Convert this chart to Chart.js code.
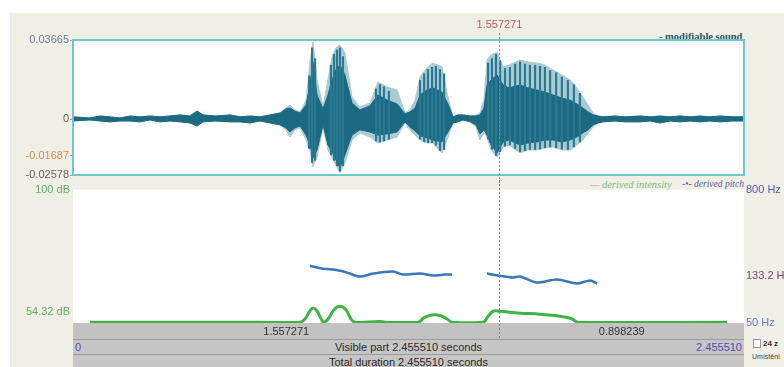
<!DOCTYPE html>
<html><head><meta charset="utf-8">
<script src="https://cdn.jsdelivr.net/npm/chart.js@4.4.1/dist/chart.umd.min.js"></script>
<style>
html,body{margin:0;padding:0;background:#fff;}
body{width:784px;height:367px;position:relative;overflow:hidden;font-family:"Liberation Sans",Arial,sans-serif;}
#bg{position:absolute;left:10px;top:13px;width:774px;height:354px;background:#f0efe6;}
canvas{position:absolute;left:0;}
.t{position:absolute;white-space:nowrap;font-size:11px;line-height:12px;}
.row{position:absolute;left:73px;width:671px;background:#c2c2c2;border-bottom:1px solid #9c9c9c;box-sizing:border-box;}
.lg{position:absolute;white-space:nowrap;font-family:"Liberation Serif",serif;font-style:italic;font-size:10px;line-height:11px;}
</style></head><body>
<div id="bg"></div>
<div class="row" style="top:323px;height:17px;"></div>
<div class="row" style="top:340px;height:15px;background:#c6c6c6;"></div>
<div class="row" style="top:355px;height:14px;background:#c6c6c6;"></div>
<div class="t" style="left:75px;top:341px;color:#5050b0;">0</div>
<div class="t" style="left:73px;width:671px;text-align:center;top:341px;color:#2a2a2a;">Visible part 2.455510 seconds</div>
<div class="t" style="left:600px;width:142px;text-align:right;top:341px;color:#5050b0;">2.455510</div>
<div class="t" style="left:73px;width:671px;text-align:center;top:356px;color:#2a2a2a;">Total duration 2.455510 seconds</div>
<div class="lg" style="left:659px;top:31px;font-style:normal;font-weight:bold;font-size:10.5px;color:#2a5566;">- modifiable sound</div>
<div class="lg" style="left:590px;top:179px;font-size:10.5px;color:#86b886;">— derived intensity</div>
<div class="lg" style="left:682px;top:179px;font-size:9.5px;color:#5a5aa8;">-•- derived pitch</div>
<div style="position:absolute;left:753px;top:339px;width:6px;height:7px;border:1px solid #999;background:#fff;"></div>
<div class="t" style="left:763px;top:338px;font-size:8px;font-weight:bold;color:#333;">24 z</div>
<div class="t" style="left:752px;top:351px;font-size:7px;color:#444;">Umístění</div>
<canvas id="wave" width="784" height="185" style="top:0"></canvas>
<canvas id="pi" width="784" height="165" style="top:180px"></canvas>
<script>
const totalDuration = 2.455510;
const cursorTime = 1.557271;

const waveTimes = [0.000,0.062,0.099,0.135,0.172,0.209,0.245,0.282,0.318,0.355,
0.392,0.428,0.454,0.476,0.520,0.575,0.611,0.648,0.684,0.721,
0.758,0.779,0.794,0.812,0.831,0.853,0.867,0.878,0.893,0.915,
0.933,0.948,0.962,0.977,0.995,1.021,1.050,1.087,1.116,1.149,
1.186,1.215,1.233,1.252,1.270,1.295,1.317,1.350,1.372,1.391,
1.409,1.427,1.453,1.475,1.489,1.504,1.515,1.530,1.552,1.574,
1.596,1.636,1.665,1.698,1.727,1.757,1.789,1.819,1.844,1.866,
1.885,1.903,1.921,1.940,1.983,2.020,2.075,2.112,2.148,2.185,
2.221,2.258,2.295,2.331,2.368,2.412,2.455];

const waveLightMax = [0.0011,0.0006,0.0015,0.0011,0.0006,0.0015,0.0011,0.0015,0.0011,0.0015,
0.0020,0.0015,0.0038,0.0020,0.0015,0.0020,0.0011,0.0015,0.0011,0.0020,
0.0029,0.0052,0.0066,0.0043,0.0034,0.0089,0.0260,0.0357,0.0182,0.0057,
0.0182,0.0288,0.0330,0.0344,0.0307,0.0103,0.0057,0.0075,0.0172,0.0149,
0.0135,0.0029,0.0043,0.0089,0.0196,0.0237,0.0260,0.0242,0.0103,0.0011,
0.0020,0.0020,0.0015,0.0020,0.0029,0.0089,0.0274,0.0297,0.0311,0.0242,
0.0251,0.0274,0.0265,0.0260,0.0251,0.0228,0.0205,0.0182,0.0145,0.0103,
0.0066,0.0029,0.0015,0.0011,0.0015,0.0011,0.0015,0.0011,0.0015,0.0011,
0.0015,0.0011,0.0015,0.0011,0.0015,0.0011,0.0011];

const waveLightMin = [-0.0008,-0.0003,-0.0008,-0.0012,-0.0008,-0.0008,-0.0012,-0.0003,-0.0012,-0.0008,
-0.0012,-0.0017,-0.0031,-0.0012,-0.0008,-0.0012,-0.0012,-0.0017,-0.0008,-0.0017,
-0.0026,-0.0049,-0.0082,-0.0049,-0.0040,-0.0096,-0.0142,-0.0221,-0.0174,-0.0036,
-0.0142,-0.0174,-0.0211,-0.0248,-0.0202,-0.0096,-0.0063,-0.0082,-0.0110,-0.0096,
-0.0082,-0.0017,-0.0049,-0.0073,-0.0096,-0.0110,-0.0110,-0.0156,-0.0082,-0.0017,
-0.0012,-0.0003,-0.0012,-0.0036,-0.0096,-0.0063,-0.0082,-0.0142,-0.0174,-0.0128,
-0.0119,-0.0156,-0.0142,-0.0142,-0.0133,-0.0128,-0.0142,-0.0142,-0.0119,-0.0096,
-0.0063,-0.0036,-0.0017,-0.0012,-0.0008,-0.0012,-0.0012,-0.0008,-0.0017,-0.0008,
-0.0012,-0.0008,-0.0012,-0.0008,-0.0012,-0.0008,-0.0008];

const waveDarkMax = [0.0011,0.0006,0.0015,0.0011,0.0006,0.0015,0.0011,0.0015,0.0011,0.0015,
0.0020,0.0015,0.0038,0.0020,0.0015,0.0020,0.0011,0.0015,0.0011,0.0020,
0.0029,0.0048,0.0052,0.0038,0.0029,0.0066,0.0159,0.0265,0.0112,0.0048,
0.0112,0.0182,0.0228,0.0251,0.0205,0.0075,0.0043,0.0062,0.0112,0.0089,
0.0071,0.0025,0.0034,0.0052,0.0112,0.0135,0.0145,0.0126,0.0071,0.0011,
0.0020,0.0020,0.0015,0.0015,0.0020,0.0052,0.0159,0.0182,0.0205,0.0159,
0.0145,0.0159,0.0145,0.0135,0.0126,0.0112,0.0098,0.0089,0.0071,0.0052,
0.0034,0.0020,0.0015,0.0011,0.0015,0.0011,0.0015,0.0011,0.0015,0.0011,
0.0015,0.0011,0.0015,0.0011,0.0015,0.0011,0.0011];

const waveDarkMin = [-0.0008,-0.0003,-0.0008,-0.0012,-0.0008,-0.0008,-0.0012,-0.0003,-0.0012,-0.0008,
-0.0012,-0.0017,-0.0031,-0.0012,-0.0008,-0.0012,-0.0012,-0.0017,-0.0008,-0.0017,
-0.0026,-0.0040,-0.0059,-0.0040,-0.0031,-0.0073,-0.0119,-0.0179,-0.0142,-0.0026,
-0.0119,-0.0151,-0.0188,-0.0225,-0.0165,-0.0073,-0.0049,-0.0059,-0.0073,-0.0068,
-0.0059,-0.0012,-0.0036,-0.0054,-0.0077,-0.0086,-0.0096,-0.0105,-0.0059,-0.0017,
-0.0012,-0.0003,-0.0012,-0.0026,-0.0068,-0.0049,-0.0073,-0.0119,-0.0156,-0.0105,
-0.0096,-0.0119,-0.0110,-0.0105,-0.0096,-0.0096,-0.0105,-0.0096,-0.0082,-0.0063,
-0.0049,-0.0026,-0.0017,-0.0012,-0.0008,-0.0012,-0.0012,-0.0008,-0.0017,-0.0008,
-0.0012,-0.0008,-0.0012,-0.0008,-0.0012,-0.0008,-0.0008];

// single-period strokes visible as dark striations inside the light envelope
const strokeTimes = [0.864,0.875,0.886,0.944,0.955,0.966,0.977,0.988,1.109,1.123,
1.138,1.156,1.270,1.285,1.299,1.314,1.328,1.343,1.358,1.519,
1.533,1.548,1.563,1.581,1.599,1.618,1.636,1.654,1.672,1.691,
1.709,1.727,1.746,1.768,1.789,1.811,1.833,1.855];
const strokeMax = [0.0200,0.0330,0.0280,0.0250,0.0300,0.0320,0.0330,0.0290,0.0140,0.0160,
0.0150,0.0130,0.0180,0.0210,0.0230,0.0240,0.0245,0.0230,0.0210,0.0260,
0.0280,0.0300,0.0270,0.0235,0.0240,0.0255,0.0265,0.0255,0.0250,0.0250,
0.0245,0.0240,0.0225,0.0215,0.0195,0.0180,0.0160,0.0120];
const strokeMin = [-0.0135,-0.0200,-0.0190,-0.0165,-0.0190,-0.0215,-0.0240,-0.0215,-0.0100,-0.0105,
-0.0100,-0.0092,-0.0092,-0.0105,-0.0108,-0.0108,-0.0120,-0.0145,-0.0140,-0.0090,
-0.0138,-0.0168,-0.0150,-0.0125,-0.0118,-0.0135,-0.0150,-0.0145,-0.0140,-0.0140,
-0.0138,-0.0132,-0.0128,-0.0132,-0.0138,-0.0140,-0.0128,-0.0105];

const waveTicks = [-0.02578,-0.01687,0,0.03665];
const waveTickLabels = ["-0.02578","-0.01687","0","0.03665"];

const intensityTimes = [0.062,0.282,0.465,0.684,0.831,0.849,0.867,0.878,0.893,0.908,
0.919,0.937,0.955,0.977,0.999,1.017,1.032,1.123,1.142,1.263,
1.285,1.314,1.343,1.369,1.387,1.500,1.519,1.537,1.563,1.599,
1.636,1.709,1.764,1.800,1.826,1.848,2.393];
const intensityDb = [50.3,50.3,50.3,50.3,50.3,51.5,54.5,55.6,54.5,51.5,
50.3,52.0,55.0,56.3,55.0,51.5,50.3,50.6,50.3,50.3,
52.0,53.0,52.8,51.5,50.3,50.3,52.5,54.4,54.4,54.0,
53.7,53.3,52.8,52.2,51.5,50.3,50.3];
const intensityTicks = [54.32,100];
const intensityTickLabels = ["54.32 dB","100 dB"];

const pitchTimes = [0.867,0.915,0.959,1.003,1.050,1.098,1.171,1.208,1.270,1.317,1.361,1.387,
1.450,1.515,1.555,1.610,1.636,1.698,1.771,1.844,1.892,1.918];
const pitchHz = [164.5,154.7,151.0,142.5,131.3,139.6,145.5,136.8,139.6,134.0,136.8,136.8,
null,139.6,134.0,128.6,131.3,116.0,123.4,113.7,120.9,113.7];
const pitchTicks = [50,133.2,800];
const pitchTickLabels = ["50 Hz","133.2 Hz","800 Hz"];
const pitchTickColors = ["#6a78c8","#8a3a7a","#5858a8"];

const pts = (xs, ys) => xs.map((x,i)=>({x:x, y:ys[i]}));
const bars = (xs, lo, hi) => xs.map((x,i)=>({x:x, y:[lo[i],hi[i]]}));

const FONT = {family:'"Liberation Sans", Arial, sans-serif', size:11};

function cursorPlugin(topY, extraBottom, kind) {
  return {
    id:'cursor'+kind,
    beforeDraw(chart){
      const a = chart.chartArea, c = chart.ctx;
      c.save(); c.fillStyle='#ffffff'; c.fillRect(a.left,a.top,a.right-a.left,a.bottom-a.top); c.restore();
    },
    afterDatasetsDraw(chart){
      const a = chart.chartArea, c = chart.ctx;
      const x = Math.round(chart.scales.x.getPixelForValue(cursorTime))+0.5;
      c.save();
      if (kind === 'wave') {
        c.strokeStyle='#6cc8cf'; c.lineWidth=2;
        c.strokeRect(a.left, a.top, a.right-a.left, a.bottom-a.top);
        c.fillStyle='#c45a5a'; c.font='11px "Liberation Sans", Arial'; c.textAlign='center'; c.textBaseline='middle';
        c.fillText(cursorTime.toFixed(6), x, 25);
      }
      c.strokeStyle='#d65a5a'; c.lineWidth=1; c.setLineDash([2,2]);
      c.beginPath(); c.moveTo(x, topY); c.lineTo(x, kind==='wave' ? chart.height : a.bottom+extraBottom); c.stroke();
      if (kind === 'pitch') {
        c.setLineDash([]);
        c.fillStyle='#333'; c.font='11px "Liberation Sans", Arial'; c.textAlign='center'; c.textBaseline='middle';
        c.fillText(cursorTime.toFixed(6), (a.left+x)/2, a.bottom+8.5);
        c.fillText((totalDuration-cursorTime).toFixed(6), (x+a.right)/2, a.bottom+8.5);
      }
      c.restore();
    }
  };
}

new Chart(document.getElementById('wave'), {
  type:'line',
  data:{datasets:[
    {data:pts(waveTimes,waveLightMax), fill:'+1', backgroundColor:'#a9cbd4', borderColor:'#a9cbd4', borderWidth:1, pointRadius:0, order:3},
    {data:pts(waveTimes,waveLightMin), fill:false, borderColor:'#a9cbd4', borderWidth:1, pointRadius:0, order:3},
    {data:pts(waveTimes,waveDarkMax), fill:'+1', backgroundColor:'#1c6a82', borderColor:'#1c6a82', borderWidth:1, pointRadius:0, order:2},
    {data:pts(waveTimes,waveDarkMin), fill:false, borderColor:'#1c6a82', borderWidth:1, pointRadius:0, order:2},
    {type:'bar', data:bars(strokeTimes,strokeMin,strokeMax), backgroundColor:'#2a7891', barThickness:1.5, order:1}
  ]},
  options:{
    responsive:false, animation:false, events:[],
    layout:{padding:{left:0,right:40,top:40,bottom:10}},
    plugins:{legend:{display:false}, tooltip:{enabled:false}, filler:{drawTime:'beforeDatasetDraw'}},
    scales:{
      x:{type:'linear', min:0, max:totalDuration, display:false, offset:false},
      y:{min:-0.02578, max:0.03665,
         afterBuildTicks:s=>{s.ticks = waveTicks.map(v=>({value:v}));},
         afterFit:s=>{s.width=73;},
         border:{display:false},
         grid:{drawOnChartArea:false, tickLength:3, color:'#9a9a9a'},
         ticks:{autoSkip:false, padding:1, font:FONT,
           callback:(v,i)=>waveTickLabels[i],
           color:c=>c.index===1?'#c8904e':(c.index===3?'#6b7c8c':'#666')}}
    }
  },
  plugins:[cursorPlugin(33,0,'wave')]
});

new Chart(document.getElementById('pi'), {
  type:'line',
  data:{datasets:[
    {data:pts(intensityTimes,intensityDb), yAxisID:'yI', borderColor:'#3db443', borderWidth:3, tension:0.4, pointRadius:0, fill:false},
    {data:pts(pitchTimes,pitchHz), yAxisID:'yP', borderColor:'#3b76bd', borderWidth:2.5, tension:0.3, pointRadius:0, fill:false, spanGaps:false}
  ]},
  options:{
    responsive:false, animation:false, events:[],
    layout:{padding:{left:0,right:0,top:8,bottom:22}},
    plugins:{legend:{display:false}, tooltip:{enabled:false}},
    scales:{
      x:{type:'linear', min:0, max:totalDuration, display:false},
      yI:{position:'left', min:50, max:100,
         afterBuildTicks:s=>{s.ticks = intensityTicks.map(v=>({value:v}));},
         afterFit:s=>{s.width=73;},
         border:{display:false},
         grid:{drawOnChartArea:false, drawTicks:false},
         ticks:{autoSkip:false, padding:3, font:FONT, color:'#6aa86a', callback:(v,i)=>intensityTickLabels[i]}},
      yP:{position:'right', type:'logarithmic', min:50, max:800,
         afterBuildTicks:s=>{s.ticks = pitchTicks.map(v=>({value:v}));},
         afterFit:s=>{s.width=40;},
         border:{display:false},
         grid:{drawOnChartArea:false, drawTicks:false},
         ticks:{autoSkip:false, padding:2, font:FONT, color:c=>pitchTickColors[c.index], callback:(v,i)=>pitchTickLabels[i]}}
    }
  },
  plugins:[cursorPlugin(0,17,'pitch')]
});
</script>
</body></html>
